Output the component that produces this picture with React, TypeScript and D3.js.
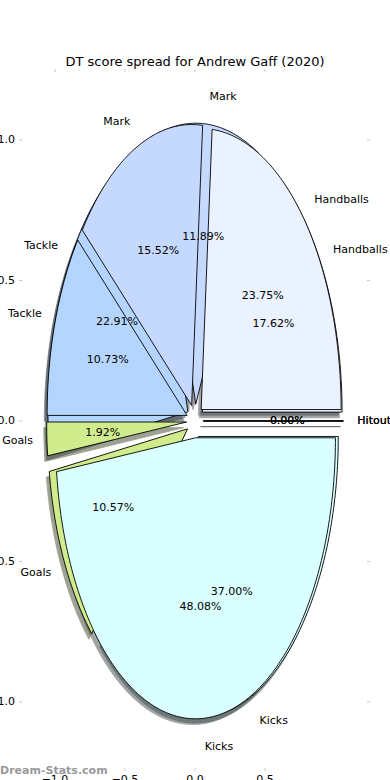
import React from 'react';
import * as d3 from 'd3';

const W = 390;
const H = 780;

const chartTitle = 'DT score spread for Andrew Gaff (2020)';
const watermark = 'Dream-Stats.com';

// slice order, counter-clockwise from 3 o'clock (matplotlib pie default)
const categories = ['Handballs', 'Mark', 'Tackle', 'Goals', 'Kicks', 'Hitout'];
const sliceColors = ['#eaf2ff', '#c5d9ff', '#b4d5ff', '#d0ec8c', '#daffff', '#ffd9d9'];

// share of DT score per stat (%), two pies drawn over each other
const backPie = [17.62, 11.89, 22.91, 10.57, 37.0, 0];
const frontPie = [23.75, 15.52, 10.73, 1.92, 48.08, 0];

const xTicks = [-1, -0.5, 0, 0.5];
const yTicks = [-1, -0.5, 0, 0.5, 1];

const explode = 0.06;
const shadowOff = -0.02;
const font = 'DejaVu Sans, sans-serif';

const x = d3.scaleLinear().domain([-1.236, 1.229]).range([22, 367]);
const y = d3.scaleLinear().domain([-1.235, 1.242]).range([768, 72]);

const toPx = d3
  .line<[number, number]>()
  .x(p => x(p[0]))
  .y(p => y(p[1]));

function wedgePath(t1: number, t2: number, cx: number, cy: number) {
  const n = Math.max(2, Math.ceil(((t2 - t1) * 180) / Math.PI));
  const pts: [number, number][] = [[cx, cy]];
  d3.range(n + 1).forEach(i => {
    const t = t1 + ((t2 - t1) * i) / n;
    pts.push([cx + Math.cos(t), cy + Math.sin(t)]);
  });
  pts.push([cx, cy]);
  return toPx(pts) + 'Z';
}

function shade(c: string) {
  const r = d3.rgb(c);
  return d3.rgb(r.r * 0.3, r.g * 0.3, r.b * 0.3).formatHex();
}

const pieGen = d3
  .pie<number>()
  .sort(null)
  .startAngle(0)
  .endAngle(2 * Math.PI);

function buildSlices(values: number[]) {
  const total = d3.sum(values);
  return pieGen(values).map((a, i) => {
    const mid = (a.startAngle + a.endAngle) / 2;
    const cx = explode * Math.cos(mid);
    const cy = explode * Math.sin(mid);
    return {
      key: categories[i],
      color: sliceColors[i],
      t1: a.startAngle,
      t2: a.endAngle,
      mid,
      cx,
      cy,
      pct: ((values[i] / total) * 100).toFixed(2) + '%',
    };
  });
}

const pies = [buildSlices(backPie), buildSlices(frontPie)];

export default function App() {
  return (
    <svg
      width={W}
      height={H}
      style={{ position: 'absolute', left: 0, top: 0, background: '#fff' }}
      fontFamily={font}
    >
      {/* ticks */}
      <g stroke="#c8c8c8" strokeWidth={1}>
        {yTicks.map(t => (
          <g key={'y' + t}>
            <line x1={19} x2={22} y1={y(t)} y2={y(t)} />
            <line x1={367} x2={370} y1={y(t)} y2={y(t)} />
          </g>
        ))}
        {xTicks.map(t => (
          <g key={'x' + t}>
            <line x1={x(t)} x2={x(t)} y1={69} y2={72} />
            <line x1={x(t)} x2={x(t)} y1={768} y2={771} />
          </g>
        ))}
      </g>
      <g fontSize={11} fill="#000">
        {yTicks.map(t => (
          <text key={'yl' + t} x={15} y={y(t)} textAnchor="end" dominantBaseline="central">
            {d3.format('.1f')(t).replace('-', '\u2212')}
          </text>
        ))}
        {xTicks.map(t => (
          <text key={'xl' + t} x={x(t)} y={775} textAnchor="middle" dominantBaseline="hanging">
            {d3.format('.1f')(t).replace('-', '\u2212')}
          </text>
        ))}
      </g>

      {/* shadows below every wedge */}
      {pies.map((slices, p) =>
        slices.map(s => (
          <path
            key={'sh' + p + s.key}
            d={wedgePath(s.t1, s.t2, s.cx + shadowOff, s.cy + shadowOff)}
            fill={shade(s.color)}
            stroke={shade(s.color)}
            strokeWidth={0.9}
            opacity={0.5}
          />
        )),
      )}

      {pies.map((slices, p) =>
        slices.map(s => (
          <path
            key={'w' + p + s.key}
            d={wedgePath(s.t1, s.t2, s.cx, s.cy)}
            fill={s.color}
            stroke="#000"
            strokeWidth={0.9}
            strokeLinejoin="round"
          />
        )),
      )}

      <g fontSize={11} fill="#000">
        {pies.map((slices, p) =>
          slices.map(s => {
            const lx = s.cx + 1.1 * Math.cos(s.mid);
            const ly = s.cy + 1.1 * Math.sin(s.mid);
            const px = s.cx + 0.6 * Math.cos(s.mid);
            const py = s.cy + 0.6 * Math.sin(s.mid);
            return (
              <g key={'t' + p + s.key}>
                <text
                  x={x(lx)}
                  y={y(ly)}
                  textAnchor={lx > 0 ? 'start' : 'end'}
                  dominantBaseline="central"
                >
                  {s.key}
                </text>
                <text x={x(px)} y={y(py)} textAnchor="middle" dominantBaseline="central">
                  {s.pct}
                </text>
              </g>
            );
          }),
        )}
      </g>

      <text x={W / 2} y={61} textAnchor="middle" dominantBaseline="central" fontSize={13} fill="#000">
        {chartTitle}
      </text>

      <text
        x={0}
        y={770}
        dominantBaseline="central"
        fontSize={11}
        fontWeight="600"
        fill="#999"
      >
        {watermark}
      </text>
    </svg>
  );
}
